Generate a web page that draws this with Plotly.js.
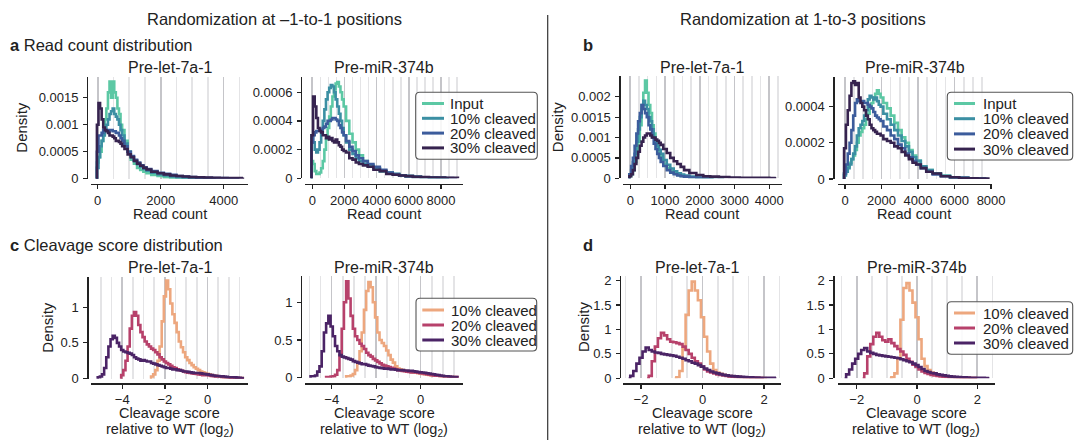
<!DOCTYPE html>
<html><head><meta charset="utf-8">
<script src="https://cdn.plot.ly/plotly-3.0.1.min.js"></script>
<style>html,body{margin:0;padding:0;background:#fff}#chart{width:1079px;height:440px}</style>
</head><body><div id="chart"></div>
<script>
// ---------------- DATA ----------------
const readSeries = ['Input','10% cleaved','20% cleaved','30% cleaved'];
const scoreSeries = ['10% cleaved','20% cleaved','30% cleaved'];
const subTitles = ['Pre-let-7a-1','Pre-miR-374b'];
const headers = ['Randomization at \u20131-to-1 positions','Randomization at 1-to-3 positions'];

// Panel a (−1-to-1), Pre-let-7a-1 : read count histogram
const binsA1 = [-50,0,50,100,150,200,250,300,350,400, 450,500,550,600,650,700,750,800,900,1000, 1100,1200,1300,1400,1500,1600,1800,2000,2200,2400, 2600,2800,3000,3250,3500,3750,4000,4250,4500,4650];
const a1Input = [0,0.0003,0.0004,0.0005,0.0007,0.0009,0.0011,0.0013,0.0016,0.0018, 0.0015,0.0018,0.0016,0.0015,0.0013,0.0012,0.001,0.0009,0.0007,0.0005, 0.00035,0.00028,0.0002,0.00016,0.00013,0.0001,0.00007,0.00005,0.00003,0.00002, 0.000015,0.00001,0.000005,0.000003,0,null,null,null,null,null];
const a1C10 = [0,0.0002,0.0004,0.0006,0.0007,0.0008,0.0009,0.001,0.0011,0.0012, 0.00125,0.0013,0.0012,0.00115,0.0011,0.001,0.0009,0.0008,0.00065,0.0005, 0.0004,0.00033,0.00027,0.00022,0.00018,0.00015,0.00011,0.00008,0.00006,0.00004, 0.00003,0.00002,0.000015,0.00001,0.000005,0,null,null,null,null];
const a1C20 = [0,0.0005,0.0008,0.0008,0.00085,0.0009,0.0009,0.0009,0.00088,0.0009, 0.0009,0.00088,0.00088,0.00085,0.00085,0.0008,0.00075,0.0007,0.0006,0.0005, 0.00042,0.00035,0.0003,0.00025,0.00021,0.00018,0.00014,0.00011,0.00009,0.00007, 0.00005,0.00004,0.00003,0.00002,0.000015,0.00001,0.00001,0.000005,0,null];
const a1C30 = [0,0.001,0.0014,0.0013,0.0011,0.00095,0.0009,0.00088,0.00085,0.0008, 0.0008,0.00078,0.00075,0.0007,0.0007,0.00068,0.00065,0.0006,0.00055,0.00045, 0.0004,0.00033,0.00028,0.00024,0.0002,0.00017,0.00013,0.0001,0.00008,0.00006, 0.00005,0.00004,0.00003,0.000025,0.00002,0.000015,0.000012,0.00001,0.00001,0];

// Panel a, Pre-miR-374b
const binsA2 = [-100,0,100,200,300,400,500,600,700,800, 900,1000,1100,1200,1300,1400,1500,1600,1700,1800, 1900,2000,2200,2400,2600,2800,3000,3300,3600,4000, 4400,4800,5200,5600,6000,6500,7000,7500,8000,8500, 9000,9100];
const a2Input = [0,0.00012,0.0001,0.00005,0.00003,0.00003,0.00004,0.00007,0.00012,0.0002, 0.00027,0.00035,0.00043,0.0005,0.00057,0.00062,0.00066,0.00067,0.00064,0.0006, 0.00055,0.0005,0.0004,0.00031,0.00025,0.0002,0.00016,0.00012,0.00009,0.00007, 0.00005,0.00004,0.00003,0.00002,0.000015,0.00001,0.000007,0.000005,0.000003,0, null,null];
const a2C10 = [0,0.0003,0.00025,0.0002,0.00018,0.0002,0.00025,0.00032,0.0004,0.00048, 0.00055,0.0006,0.00063,0.00065,0.00064,0.0006,0.00055,0.0005,0.00045,0.0004, 0.00035,0.0003,0.00025,0.0002,0.00017,0.00014,0.00012,0.0001,0.00008,0.00007, 0.00005,0.00004,0.00003,0.00002,0.000015,0.00001,0.000007,0.000005,0.000003,0, null,null];
const a2C20 = [0,0.00025,0.0003,0.00032,0.00033,0.00033,0.00034,0.00034,0.00035,0.00036, 0.00038,0.0004,0.0004,0.00041,0.00042,0.00042,0.00041,0.0004,0.00037,0.00035, 0.00032,0.0003,0.00026,0.00022,0.00019,0.00016,0.00014,0.00012,0.0001,0.00008, 0.00006,0.00004,0.00003,0.00002,0.000015,0.00001,0.000007,0.000005,0.000003,0.000002, 0,null];
const a2C30 = [0,0.0003,0.00057,0.0005,0.00042,0.00035,0.00033,0.00032,0.0003,0.0003, 0.00028,0.00029,0.00027,0.00028,0.00026,0.00025,0.00027,0.00025,0.00023,0.00022, 0.0002,0.00019,0.00018,0.00014,0.00013,0.00011,0.0001,0.00009,0.00008,0.00006, 0.00005,0.00003,0.000025,0.00002,0.000015,0.00001,0.000008,0.000006,0.000005,0.000004, 0.000003,0];

// Panel b (1-to-3), Pre-let-7a-1
const binsB1 = [-50,0,50,100,150,200,250,300,350,400, 450,500,550,600,650,700,750,800,850,900, 1000,1100,1200,1300,1400,1500,1600,1800,2000,2200, 2400,2700,3000,3300,3600,3900,4100,4200];
const b1Input = [0,0.00005,0.0001,0.0002,0.0004,0.0006,0.0009,0.0013,0.0017,0.0021, 0.0024,0.0021,0.0018,0.0016,0.0013,0.0011,0.0009,0.0007,0.0006,0.0005, 0.00035,0.00025,0.00017,0.00012,0.00008,0.00006,0.00004,0.00002,0.00001,0.000005, 0,null,null,null,null,null,null,null];
const b1C10 = [0,0.0001,0.0002,0.0004,0.0006,0.0009,0.0012,0.0015,0.0018,0.0019, 0.0018,0.0017,0.0015,0.0014,0.0012,0.001,0.0009,0.0008,0.0007,0.0006, 0.00045,0.00033,0.00024,0.00017,0.00012,0.00009,0.00007,0.00004,0.00002,0.00001, 0.000005,0,null,null,null,null,null,null];
const b1C20 = [0,0.0001,0.0003,0.0005,0.0008,0.0011,0.0014,0.0016,0.0018,0.0017, 0.0016,0.0015,0.0013,0.0012,0.001,0.00085,0.00072,0.0006,0.0005,0.0004, 0.0003,0.0002,0.00014,0.0001,0.00007,0.00005,0.00004,0.00002,0.00001,0.000005, 0,null,null,null,null,null,null,null];
const b1C30 = [0,0.00005,0.0001,0.0002,0.00035,0.0005,0.00065,0.0008,0.0009,0.001, 0.00105,0.0011,0.0011,0.00105,0.001,0.001,0.00095,0.00092,0.00087,0.00082, 0.00072,0.00062,0.0005,0.00042,0.00035,0.00028,0.0002,0.00013,0.00008,0.00005, 0.00004,0.00003,0.00002,0.000015,0.00001,0.00001,0.000008,0];

// Panel b, Pre-miR-374b
const binsB2 = [-100,0,100,200,300,400,500,600,700,800, 900,1000,1100,1200,1300,1400,1500,1600,1700,1800, 1900,2000,2200,2400,2600,2800,3000,3200,3400,3600, 3800,4000,4300,4600,5000,5500,6000,6500,7000,7500, 7800,7900];
const b2Input = [0,0.00003,0.00005,0.00007,0.00009,0.00011,0.00013,0.00016,0.0002,0.00024, 0.00026,0.00028,0.0003,0.00033,0.00036,0.0004,0.00042,0.00045,0.00047,0.00049, 0.00047,0.00045,0.00042,0.00039,0.00035,0.00031,0.00027,0.00023,0.0002,0.00016, 0.00013,0.0001,0.00007,0.00005,0.00003,0.000018,0.00001,0.000006,0.000004,0.000002, 0,null];
const b2C10 = [0,0.00002,0.00004,0.00006,0.00008,0.00011,0.00014,0.00018,0.00024,0.00028, 0.0003,0.00032,0.00035,0.00038,0.00044,0.00046,0.00045,0.00044,0.00045,0.00043, 0.00041,0.0004,0.00036,0.00033,0.0003,0.00027,0.00024,0.00021,0.00018,0.00015, 0.00012,0.0001,0.00007,0.00005,0.00003,0.000018,0.00001,0.000006,0.000004,0.000002, 0,null];
const b2C20 = [0,0.00003,0.00008,0.00014,0.0002,0.00027,0.00035,0.00042,0.00044,0.00043, 0.00043,0.00043,0.00042,0.00042,0.00041,0.0004,0.00039,0.00037,0.00035,0.00034, 0.00033,0.00032,0.00029,0.00027,0.00024,0.00022,0.00019,0.00017,0.00014,0.00012, 0.0001,0.00008,0.00006,0.00004,0.000025,0.000015,0.00001,0.000006,0.000004,0.000002, 0,null];
const b2C30 = [0,0.00017,0.0003,0.00038,0.00046,0.00053,0.00054,0.00052,0.00053,0.00045, 0.00042,0.0004,0.00038,0.00035,0.00033,0.0003,0.00028,0.00027,0.00026,0.00025, 0.00025,0.00024,0.00022,0.00021,0.0002,0.00018,0.00017,0.00015,0.00013,0.00011, 0.00009,0.00008,0.00006,0.00004,0.00003,0.000015,0.00001,0.000005,0.000004,0.000003, 0.000002,0];

// Panel c (−1-to-1) cleavage score (log2)
const binsC = [-5.2,-5.1,-5.0,-4.9,-4.8,-4.7,-4.6,-4.5,-4.4,-4.3, -4.2,-4.1,-4.0,-3.9,-3.8,-3.7,-3.6,-3.5,-3.4,-3.3, -3.2,-3.1,-3.0,-2.9,-2.8,-2.7,-2.6,-2.5,-2.4,-2.3, -2.2,-2.1,-2.0,-1.9,-1.8,-1.7,-1.6,-1.5,-1.4,-1.3, -1.2,-1.1,-1.0,-0.9,-0.8,-0.7,-0.6,-0.5,-0.4,-0.3, -0.2,-0.1,0.0,0.1,0.2,0.3,0.4,0.5,0.6,0.7, 0.8,0.9,1.0,1.1,1.2,1.3,1.4,1.5,1.6,1.7];
const c1C10 = [null,null,null,null,null,null,null,null,null,null, null,null,null,null,null,null,null,null,null,null, null,null,null,null,null,0,0.03,0.06,0.12,0.25, 0.45,0.8,1.15,1.37,1.25,1.05,0.9,0.78,0.65,0.52, 0.44,0.37,0.3,0.26,0.22,0.19,0.16,0.14,0.12,0.1, 0.09,0.08,0.07,0.06,0.05,0.045,0.04,0.035,0.03,0.025, 0.02,0.02,0.02,0.015,0.015,0.012,0.01,0.01,0.008,0];
const c1C20 = [null,null,null,null,null,null,null,null,null,null, null,0,0.05,0.12,0.25,0.45,0.7,0.88,0.93,0.88, 0.75,0.65,0.58,0.52,0.48,0.45,0.42,0.4,0.37,0.34, 0.3,0.27,0.24,0.22,0.2,0.18,0.16,0.15,0.13,0.12, 0.11,0.1,0.09,0.085,0.08,0.075,0.07,0.065,0.06,0.055, 0.05,0.05,0.05,0.045,0.04,0.035,0.03,0.03,0.03,0.025, 0.02,0.02,0.02,0.015,0.01,0.01,0.01,0.008,0.005,0];
const c1C30 = [0,0.02,0.03,0.06,0.15,0.3,0.45,0.55,0.6,0.57, 0.5,0.45,0.4,0.38,0.37,0.36,0.35,0.33,0.3,0.28, 0.27,0.25,0.26,0.25,0.24,0.24,0.22,0.21,0.2,0.19, 0.18,0.17,0.16,0.15,0.15,0.14,0.13,0.13,0.12,0.12, 0.11,0.1,0.1,0.095,0.09,0.085,0.08,0.08,0.08,0.075, 0.07,0.065,0.06,0.055,0.05,0.045,0.04,0.038,0.035,0.032, 0.03,0.025,0.02,0.02,0.02,0.018,0.015,0.012,0.01,0];
const c2C10 = [null,null,null,null,null,null,null,null,null,null, null,null,null,null,null,null,null,null,0,0.02, 0.02,0.03,0.05,0.1,0.2,0.35,0.6,0.9,1.15,1.27, 1.2,1.0,0.8,0.6,0.5,0.46,0.42,0.36,0.3,0.24, 0.2,0.15,0.12,0.11,0.1,0.09,0.085,0.08,0.075,0.07, 0.065,0.06,0.055,0.05,0.045,0.04,0.035,0.03,0.03,0.025, 0.025,0.02,0.02,0.015,0.015,0.01,0.01,0.01,0.005,0];
const c2C20 = [null,null,null,null,null,null,null,null,null,0, 0.01,0.01,0.015,0.02,0.04,0.1,0.3,0.65,1.0,1.28, 1.05,0.82,0.65,0.55,0.5,0.45,0.42,0.38,0.33,0.3, 0.28,0.25,0.23,0.21,0.19,0.17,0.16,0.15,0.14,0.13, 0.12,0.11,0.1,0.095,0.09,0.085,0.08,0.075,0.07,0.07, 0.07,0.065,0.06,0.055,0.05,0.045,0.04,0.035,0.03,0.028, 0.025,0.022,0.02,0.018,0.015,0.012,0.01,0.01,0.008,0];
const c2C30 = [null,null,0,0.02,0.02,0.03,0.08,0.15,0.35,0.6, 0.72,0.82,0.68,0.55,0.42,0.35,0.3,0.28,0.27,0.26, 0.25,0.24,0.22,0.21,0.2,0.19,0.18,0.18,0.17,0.16, 0.155,0.15,0.14,0.135,0.13,0.125,0.12,0.12,0.115,0.11, 0.11,0.105,0.1,0.1,0.1,0.095,0.095,0.09,0.09,0.085, 0.08,0.075,0.07,0.068,0.065,0.06,0.055,0.05,0.045,0.04, 0.035,0.03,0.025,0.02,0.02,0.015,0.012,0.01,0.008,0];

// Panel d (1-to-3) cleavage score (log2)
const binsD = [-2.5,-2.4,-2.3,-2.2,-2.1,-2.0,-1.9,-1.8,-1.7,-1.6, -1.5,-1.4,-1.3,-1.2,-1.1,-1.0,-0.9,-0.8,-0.7,-0.6, -0.5,-0.4,-0.3,-0.2,-0.1,0.0,0.1,0.2,0.3,0.4, 0.5,0.6,0.7,0.8,0.9,1.0,1.1,1.2,1.3,1.4, 1.5,1.6,1.7,1.8,1.9,2.0,2.1,2.2,2.3,2.4];
const d1C10 = [null,null,null,null,null,null,null,null,null,null, null,null,null,null,null,null,0,0.02,0.15,0.6, 1.3,1.8,1.98,1.8,1.6,1.25,0.85,0.55,0.3,0.17, 0.12,0.09,0.07,0.055,0.045,0.035,0.03,0.025,0.02,0.018, 0.015,0.012,0.01,0.008,0.006,0.005,0,null,null,null];
const d1C20 = [null,null,null,null,null,null,null,0,0.05,0.35, 0.65,0.82,0.93,0.88,0.8,0.75,0.74,0.72,0.7,0.65, 0.58,0.5,0.42,0.35,0.3,0.24,0.18,0.14,0.12,0.1, 0.08,0.07,0.06,0.05,0.04,0.035,0.03,0.025,0.02,0.015, 0.012,0.01,0.008,0.006,0.005,0,null,null,null,null];
const d1C30 = [null,0,0.05,0.15,0.3,0.42,0.55,0.63,0.58,0.55, 0.53,0.52,0.5,0.49,0.48,0.47,0.46,0.44,0.42,0.4, 0.37,0.35,0.32,0.3,0.27,0.24,0.2,0.17,0.14,0.12, 0.1,0.085,0.07,0.06,0.05,0.045,0.04,0.035,0.03,0.025, 0.02,0.018,0.015,0.013,0.012,0.01,0.01,0.01,0.008,0];
const d2C10 = [null,null,null,null,null,null,null,null,null,null, null,null,null,null,null,null,0,0.02,0.1,0.4, 1.2,1.85,1.95,1.8,1.55,1.25,0.8,0.4,0.25,0.17, 0.12,0.09,0.07,0.06,0.05,0.04,0.03,0.025,0.02,0.015, 0.012,0.01,0.008,0.006,0.005,0,null,null,null,null];
const d2C20 = [null,null,null,null,null,null,null,0,0.1,0.45, 0.7,0.85,0.93,0.85,0.78,0.75,0.8,0.72,0.66,0.6, 0.55,0.48,0.4,0.34,0.28,0.23,0.18,0.14,0.11,0.09, 0.07,0.06,0.05,0.04,0.035,0.03,0.025,0.02,0.018,0.015, 0.012,0.01,0.008,0.006,0.005,0,null,null,null,null];
const d2C30 = [null,0,0.08,0.18,0.3,0.4,0.5,0.58,0.62,0.55, 0.52,0.5,0.48,0.47,0.46,0.45,0.44,0.43,0.42,0.41, 0.39,0.37,0.35,0.33,0.3,0.27,0.23,0.19,0.15,0.13, 0.11,0.1,0.08,0.07,0.06,0.05,0.04,0.035,0.03,0.025, 0.02,0.018,0.015,0.012,0.01,0.01,0.01,0.008,0.005,0];

// tick labels
const yTicksA1 = [0,0.0005,0.001,0.0015], yLabA1 = ['0','0.0005','0.001','0.0015'];
const yTicksA2 = [0,0.0002,0.0004,0.0006], yLabA2 = ['0','0.0002','0.0004','0.0006'];
const yTicksB1 = [0,0.0005,0.001,0.0015,0.002], yLabB1 = ['0','0.0005','0.001','0.0015','0.002'];
const yTicksB2 = [0,0.0002,0.0004], yLabB2 = ['0','0.0002','0.0004'];
const yTicksC = [0,0.5,1], yLabC = ['0','0.5','1'];
const yTicksD = [0,0.5,1,1.5,2], yLabD = ['0','0.5','1','1.5','2'];

// ---------------- STYLE / LAYOUT ----------------
const W = 1079, H = 440;
const FONT = 'Liberation Sans, Arial, Helvetica, sans-serif';
const INK = '#222222';
const readColors = ['#5cc8a4','#3b8fa3','#3c5c9c','#36234f'];
const scoreColors = ['#eda77e','#b7416b','#4b2466'];
const X = p => p / W, Y = p => 1 - p / H;

const panels = [
  {bins: binsA1, vals: [a1Input,a1C10,a1C20,a1C30], cols: readColors, xd:[91,248], yd:[76.7,178.7], xr:[-213,4772], yr:[0,0.00189], xs:184, ys:87, dt:2000, mdt:500, yt:yTicksA1, yl:yLabA1},
  {bins: binsA2, vals: [a2Input,a2C10,a2C20,a2C30], cols: readColors, xd:[305,462.7], yd:[76.7,178.3], xr:[-454,9349], yr:[0,0.000708], xs:184, ys:301, dt:2000, mdt:500, yt:yTicksA2, yl:yLabA2},
  {bins: binsB1, vals: [b1Input,b1C10,b1C20,b1C30], cols: readColors, xd:[623.3,782], yd:[76,178.3], xr:[-201,4366], yr:[0,0.00251], xs:184, ys:619.3, dt:1000, mdt:250, yt:yTicksB1, yl:yLabB1},
  {bins: binsB2, vals: [b2Input,b2C10,b2C20,b2C30], cols: readColors, xd:[837.7,992], yd:[76.7,179], xr:[-400,8050], yr:[0,0.000565], xs:184, ys:833.3, dt:2000, mdt:500, yt:yTicksB2, yl:yLabB2},
  {bins: binsC, vals: [c1C10,c1C20,c1C30], cols: scoreColors, xd:[90.7,248.3], yd:[276.7,378.7], xr:[-5.48,1.91], yr:[0,1.4246], xs:383.3, ys:87.3, dt:2, mdt:0.5, yt:yTicksC, yl:yLabC},
  {bins: binsC, vals: [c2C10,c2C20,c2C30], cols: scoreColors, xd:[305,462.7], yd:[276,377.7], xr:[-5.2,1.89], yr:[0,1.349], xs:383.3, ys:301, dt:2, mdt:0.5, yt:yTicksC, yl:yLabC},
  {bins: binsD, vals: [d1C10,d1C20,d1C30], cols: scoreColors, xd:[623.3,781], yd:[276,378.3], xr:[-2.576,2.553], yr:[0,2.096], xs:383.3, ys:620, dt:2, mdt:0.5, yt:yTicksD, yl:yLabD},
  {bins: binsD, vals: [d2C10,d2C20,d2C30], cols: scoreColors, xd:[837.7,995], yd:[276,378.3], xr:[-2.63,2.587], yr:[0,2.096], xs:383.3, ys:833.3, dt:2, mdt:0.5, yt:yTicksD, yl:yLabD}
];

const traces = [];
const layout = {
  width: W, height: H, margin:{l:0,r:0,t:0,b:0},
  paper_bgcolor:'#ffffff', plot_bgcolor:'rgba(0,0,0,0)',
  showlegend:false, font:{family:FONT, color:INK, size:13},
  annotations:[], shapes:[]
};

panels.forEach((p, i) => {
  const k = i + 1, sx = k === 1 ? '' : String(k);
  p.vals.forEach((v, j) => {
    traces.push({type:'scatter', mode:'lines', x:p.bins, y:v, xaxis:'x'+sx, yaxis:'y'+sx,
      line:{shape:'hvh', color:p.cols[j], width:2.6}, connectgaps:false, hoverinfo:'skip'});
  });
  layout['xaxis'+sx] = {
    domain:[X(p.xd[0]), X(p.xd[1])], range:p.xr, anchor:'free', position:Y(p.xs),
    showline:true, linecolor:INK, linewidth:1.3, ticks:'outside', ticklen:4, tickwidth:1.2, tickcolor:INK,
    tickmode:'linear', tick0:0, dtick:p.dt, tickfont:{family:FONT, size:13, color:INK},
    showgrid:true, gridcolor:'#c5c5c9', gridwidth:1.6, zeroline:false, fixedrange:true,
    minor:{tick0:0, dtick:p.mdt, showgrid:true, gridcolor:'#e4e4e6', gridwidth:1.6, ticks:''}
  };
  layout['yaxis'+sx] = {
    domain:[Y(p.yd[1]), Y(p.yd[0])], range:p.yr, anchor:'free', position:X(p.ys),
    showline:true, linecolor:INK, linewidth:1.3, ticks:'outside', ticklen:4, tickwidth:1.2, tickcolor:INK,
    tickmode:'array', tickvals:p.yt, ticktext:p.yl, tickfont:{family:FONT, size:13, color:INK},
    ticklabelstandoff:2, showgrid:false, zeroline:false, fixedrange:true
  };
});

function ann(text, x, y, size, opts) {
  layout.annotations.push(Object.assign({text, x:X(x), y:Y(y), xref:'paper', yref:'paper',
    showarrow:false, xanchor:'center', yanchor:'middle', font:{family:FONT, size, color:INK}}, opts || {}));
}
// headers
ann(headers[0], 274.5, 19, 16.5);
ann(headers[1], 803, 19, 16.5);
ann('<b>a</b> Read count distribution', 8, 45, 16.5, {xanchor:'left'});
ann('<b>b</b>', 581, 45, 16.5, {xanchor:'left'});
ann('<b>c</b> Cleavage score distribution', 8, 245, 16.5, {xanchor:'left'});
ann('<b>d</b>', 581, 245, 16.5, {xanchor:'left'});
// subplot titles
[[170,67.5],[384,67.5],[702,67.5],[915,67.5],[170,267],[384,267],[697,267],[917,267]].forEach((c, i) => ann(subTitles[i % 2], c[0], c[1], 16));
// y titles
ann('Density', 22, 127.7, 15, {textangle:-90});
ann('Density', 557, 127.2, 15, {textangle:-90});
ann('Density', 48, 327.7, 15, {textangle:-90});
ann('Density', 583, 327, 15, {textangle:-90});
// x titles
[169.5, 384, 702, 914].forEach(x => ann('Read count', x, 213.5, 14.5));
[169.5, 384, 702, 916].forEach(x => {
  ann('Cleavage score', x, 412.5, 14.5);
  ann('relative to WT (log<sub>2</sub>)', x, 430, 14.5);
});

// separator
layout.shapes.push({type:'line', xref:'paper', yref:'paper', x0:X(547.7), x1:X(547.7), y0:Y(15), y1:Y(440), line:{color:'#333333', width:1.2}});

// legends
function roundRect(x0, y0, x1, y1, r) {
  const rx = r / W, ry = r / H;
  const a = X(x0), b = X(x1), t = Y(y0), u = Y(y1);
  return `M ${a+rx},${t} L ${b-rx},${t} Q ${b},${t} ${b},${t-ry} L ${b},${u+ry} Q ${b},${u} ${b-rx},${u} L ${a+rx},${u} Q ${a},${u} ${a},${u+ry} L ${a},${t-ry} Q ${a},${t} ${a+rx},${t} Z`;
}
function legend(box, names, cols, ys, lx0, lx1, tx) {
  layout.shapes.push({type:'path', xref:'paper', yref:'paper', path:roundRect(box[0], box[1], box[2], box[3], 4),
    line:{color:'#555555', width:1.1}, fillcolor:'rgba(255,255,255,0.85)'});
  names.forEach((n, i) => {
    layout.shapes.push({type:'line', xref:'paper', yref:'paper', x0:X(lx0), x1:X(lx1), y0:Y(ys[i]), y1:Y(ys[i]), line:{color:cols[i], width:3}});
    ann(n, tx, ys[i], 15, {xanchor:'left'});
  });
}
legend([415.7, 92.3, 537.3, 159.3], readSeries, readColors, [103.5, 118.3, 133.1, 147.9], 422, 444, 448);
legend([947.3, 92.3, 1072.7, 160], readSeries, readColors, [103.5, 118.7, 133.9, 149.1], 954, 975, 980.5);
legend([416, 298.3, 536.7, 351], scoreSeries, scoreColors, [310, 325, 340], 422.3, 444, 449);
legend([947.3, 301.7, 1072.7, 354.3], scoreSeries, scoreColors, [313, 328, 343], 954, 975, 980.5);

Plotly.newPlot('chart', traces, layout, {staticPlot:true, displayModeBar:false});
</script></body></html>
